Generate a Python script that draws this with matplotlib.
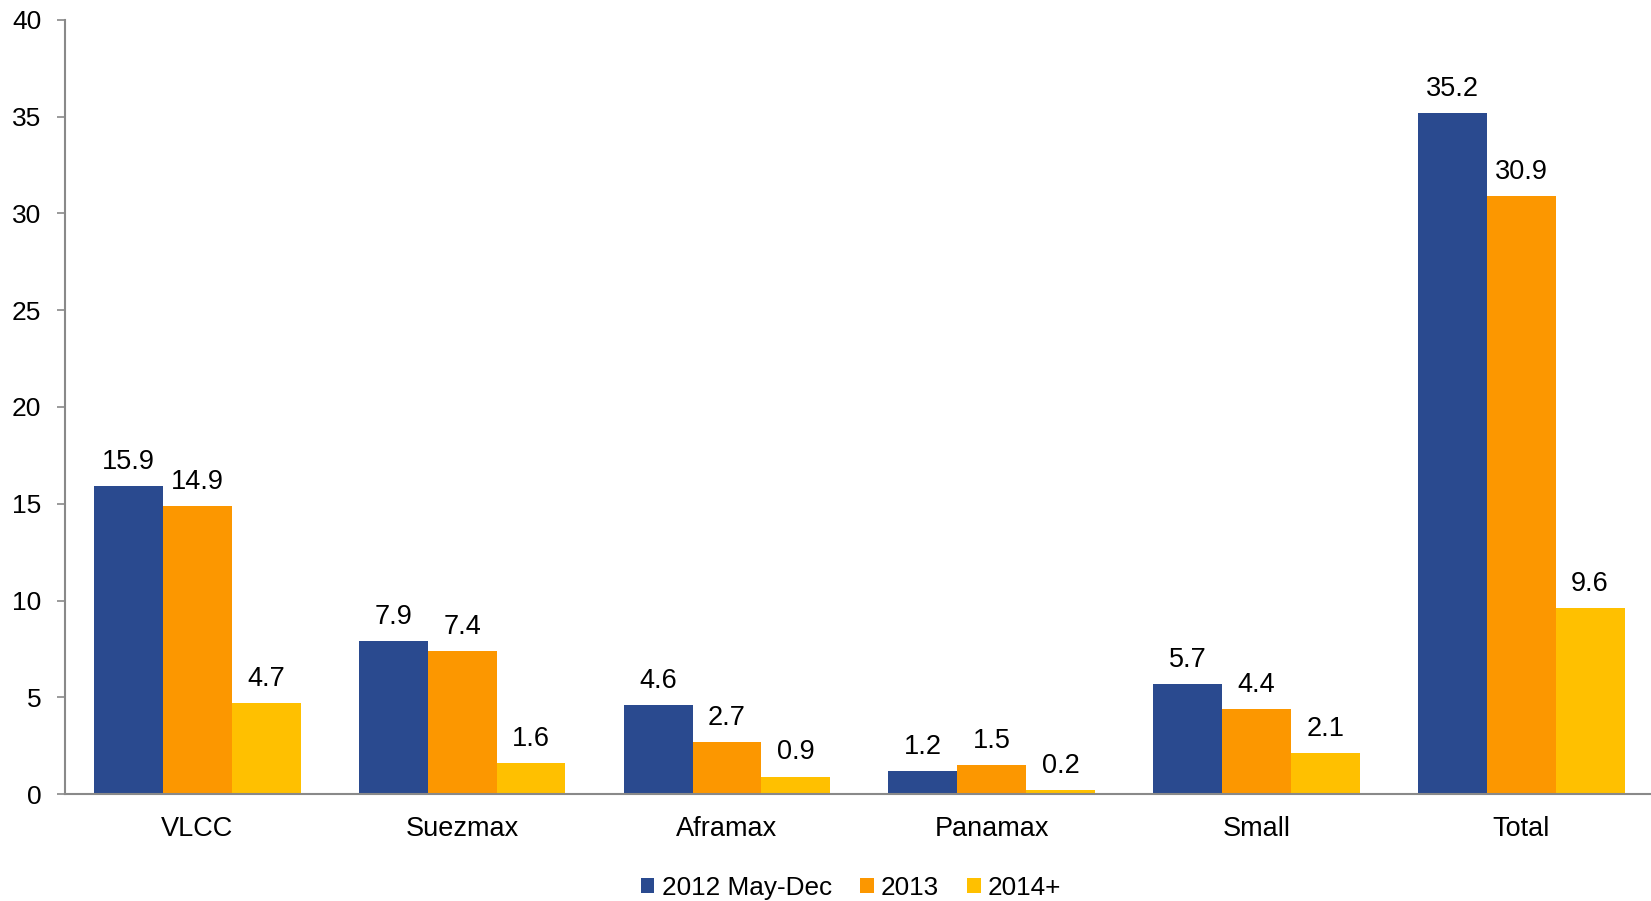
import matplotlib
matplotlib.use("Agg")
import matplotlib.pyplot as plt
import numpy as np

categories = ["VLCC", "Suezmax", "Aframax", "Panamax", "Small", "Total"]
series_names = ["2012 May-Dec", "2013", "2014+"]
s2012 = [15.9, 7.9, 4.6, 1.2, 5.7, 35.2]
s2013 = [14.9, 7.4, 2.7, 1.5, 4.4, 30.9]
s2014 = [4.7, 1.6, 0.9, 0.2, 2.1, 9.6]
colors = ["#2A4A8F", "#FC9700", "#FFC000"]
yticks = [0, 5, 10, 15, 20, 25, 30, 35, 40]

plt.rcParams['font.family'] = ['Liberation Sans', 'DejaVu Sans']

fig = plt.figure(figsize=(16.51, 9.01), dpi=100)
ax = fig.add_axes([65/1651, 107/901, 1 - 65/1651, (794-20)/901])

x = np.arange(len(categories))
w = 0.26
for i, (vals, name, c) in enumerate(zip([s2012, s2013, s2014], series_names, colors)):
    bars = ax.bar(x + (i - 1) * w, vals, width=w, color=c, label=name, linewidth=0)
    for b, v in zip(bars, vals):
        ax.annotate(f"{v:.1f}", (b.get_x() + b.get_width() / 2, b.get_height()),
                    xytext=(0, 8), textcoords="offset points",
                    ha="center", va="bottom", fontsize=19.5, color="black")

ax.set_xlim(-0.5, len(categories) - 0.51)
ax.set_ylim(0, 40)
ax.set_yticks(yticks)
ax.set_yticklabels([str(t) for t in yticks])
ax.set_xticks(x)
ax.set_xticklabels(categories)
ax.tick_params(axis='y', direction='out', length=6, width=1.2, color='#898989', pad=11, labelsize=19)
ax.tick_params(axis='x', length=0, pad=15.5, labelsize=19.5)
for s in ['top', 'right']:
    ax.spines[s].set_visible(False)
for s in ['left', 'bottom']:
    ax.spines[s].set_color('#898989')
    ax.spines[s].set_linewidth(1.5)

fig.legend(loc='center', bbox_to_anchor=(851/1651, 13/901), ncol=3, frameon=False,
           fontsize=18.8, handlelength=0.53, handleheight=0.53, handletextpad=0.27,
           columnspacing=1.08, borderaxespad=0, borderpad=0)

fig.savefig("out.png", dpi=100)
